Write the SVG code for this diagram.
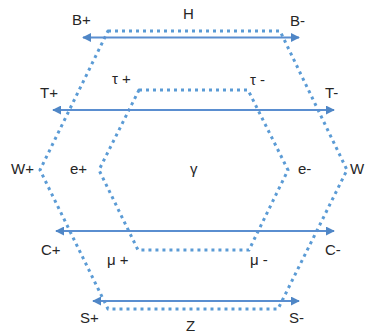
<svg xmlns="http://www.w3.org/2000/svg" width="367" height="335" viewBox="0 0 367 335">
<style>
.hex{fill:none;stroke:#5B9BD5;stroke-width:3;stroke-dasharray:3 4;stroke-linejoin:round}
.arr{fill:none;stroke:#5A8ED0;stroke-width:2}
text{font-family:"Liberation Sans",Arial,sans-serif;font-size:15px;fill:#262626}
</style>
<defs>
<marker id="ah" viewBox="0 0 10 10" refX="9" refY="5" markerWidth="4.5" markerHeight="4.5" orient="auto-start-reverse">
<path d="M0,0 L10,5 L0,10 z" fill="#4F86C6"/>
</marker>
</defs>
<g id="outer"><polygon class="hex" points="108,31 280,31 347,170 278,309 108,309 40,170"/></g>
<g id="inner"><polygon class="hex" points="139,90 248,90 288,170 249,250 138,250 99,170"/></g>
<g id="connectors">
<line class="arr" x1="83" y1="37.5" x2="299" y2="37.5" marker-start="url(#ah)" marker-end="url(#ah)"/>
<line class="arr" x1="53" y1="110" x2="334" y2="110" marker-start="url(#ah)" marker-end="url(#ah)"/>
<line class="arr" x1="56" y1="231" x2="334" y2="231" marker-start="url(#ah)" marker-end="url(#ah)"/>
<line class="arr" x1="93" y1="301" x2="299" y2="301" marker-start="url(#ah)" marker-end="url(#ah)"/>
</g>
<g id="labels">
<text x="72" y="25">B+</text>
<text x="183" y="19">H</text>
<text x="290" y="26">B-</text>
<text x="112" y="84">τ +</text>
<text x="250" y="85">τ -</text>
<text x="40" y="98">T+</text>
<text x="325" y="98">T-</text>
<text x="11" y="174">W+</text>
<text x="70" y="174">e+</text>
<text x="190" y="174">γ</text>
<text x="298" y="174">e-</text>
<text x="350" y="174">W</text>
<text x="41" y="255">C+</text>
<text x="325" y="255">C-</text>
<text x="107" y="265">μ +</text>
<text x="250" y="265">μ -</text>
<text x="80" y="323">S+</text>
<text x="186" y="331">Z</text>
<text x="289" y="323">S-</text>
</g>
</svg>
